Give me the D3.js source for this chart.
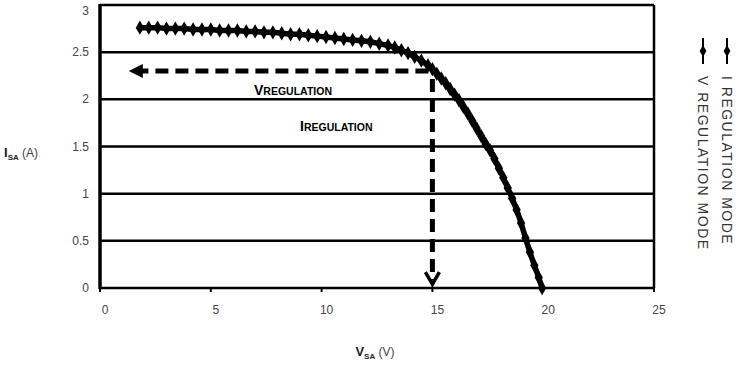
<!DOCTYPE html>
<html lang="en">
<head>
  <meta charset="UTF-8">
  <title>Solar array I-V curve</title>
  <script src="https://d3js.org/d3.v7.min.js"></script>
  <style>
    body { margin: 0; background: white; font-family: "Liberation Sans", Arial, sans-serif; }
    .grid { stroke: black; stroke-width: 2.5px; }
    .tick-label { font-size: 12px; fill: #444; }
    .legend-text { font-size: 14px; fill: #333; letter-spacing: 1.5px; }
  </style>
</head>
<body>
<svg id="svg"></svg>
<script>
// Curve data
const voltage = [1.8, 2.2, 2.6, 3.0, 3.4, 3.8, 4.2, 4.6, 5.0, 5.4, 5.8, 6.2, 6.6, 7.0, 7.4, 7.8,
  8.2, 8.6, 9.0, 9.4, 9.8, 10.2, 10.6, 11.0, 11.4, 11.8, 12.2, 12.6, 13.0, 13.3, 13.6, 13.9,
  14.2, 14.5, 14.8, 15.0, 15.2, 15.4, 15.6, 15.8, 16.0, 16.2, 16.4, 16.6, 16.8, 17.0, 17.2,
  17.4, 17.6, 17.8, 18.0, 18.2, 18.4, 18.6, 18.8, 19.0, 19.2, 19.4, 19.6, 19.8, 19.95];
const current = [2.76, 2.76, 2.76, 2.75, 2.75, 2.75, 2.74, 2.74, 2.74, 2.73, 2.73, 2.73, 2.72,
  2.72, 2.71, 2.71, 2.70, 2.69, 2.69, 2.68, 2.67, 2.66, 2.65, 2.64, 2.63, 2.62, 2.61, 2.59,
  2.57, 2.55, 2.52, 2.49, 2.45, 2.41, 2.36, 2.32, 2.27, 2.22, 2.17, 2.11, 2.05, 1.99, 1.92,
  1.85, 1.77, 1.69, 1.61, 1.53, 1.46, 1.37, 1.27, 1.17, 1.06, 0.95, 0.83, 0.69, 0.53, 0.38,
  0.24, 0.11, 0.0];

const xTicks = [0, 5, 10, 15, 20, 25];
const yTicks = [0, 0.5, 1, 1.5, 2, 2.5, 3];
const legendLabels = ["V REGULATION MODE", "I REGULATION MODE"];

// regulation point and arrow ends (V, A)
const regPoint = [15, 2.3];
const vArrowEnd = 1.3;
const iArrowEnd = 0.04;

const width = 740, height = 371;
const svg = d3.select("#svg").attr("width", width).attr("height", height);

var x = d3.scaleLinear().domain([0, 25]).range([100, 654]);
var y = d3.scaleLinear().domain([0, 3]).range([288, 5]);

// gridlines
svg.selectAll(".grid")
  .data(yTicks)
  .join("line")
  .attr("class", "grid")
  .attr("x1", x(0)).attr("x2", x(25))
  .attr("y1", d => y(d)).attr("y2", d => y(d));

// frame
svg.append("line").attr("x1", x(0)).attr("x2", x(0)).attr("y1", y(3) - 1).attr("y2", y(0) + 1)
  .attr("stroke", "black").attr("stroke-width", 3.5);
svg.append("line").attr("x1", x(25)).attr("x2", x(25)).attr("y1", y(3)).attr("y2", y(0))
  .attr("stroke", "black").attr("stroke-width", 2.5);

// small ticks on x axis
svg.selectAll(".xtick").data(xTicks).join("line")
  .attr("x1", d => x(d)).attr("x2", d => x(d))
  .attr("y1", y(0)).attr("y2", y(0) + 4)
  .attr("stroke", "black").attr("stroke-width", 2);

// tick labels
svg.selectAll(".xlab").data(xTicks).join("text")
  .attr("class", "tick-label")
  .attr("x", d => x(d) + 5).attr("y", 314)
  .attr("text-anchor", "middle")
  .text(d => d);
svg.selectAll(".ylab").data(yTicks).join("text")
  .attr("class", "tick-label")
  .attr("x", 89).attr("y", d => Math.max(y(d) + 4, 15))
  .attr("text-anchor", "end")
  .text(d => d);

// axis titles
const yt = svg.append("text").attr("x", 4).attr("y", 157).attr("font-size", 12).attr("fill", "#222");
yt.append("tspan").attr("font-weight", "bold").attr("font-size", 13).text("I");
yt.append("tspan").attr("font-weight", "bold").attr("font-size", 8).attr("dy", 3).text("SA");
yt.append("tspan").attr("dy", -3).attr("fill", "#444").text(" (A)");

const xt = svg.append("text").attr("x", 375).attr("y", 356).attr("text-anchor", "middle")
  .attr("font-size", 12).attr("fill", "#222");
xt.append("tspan").attr("font-weight", "bold").attr("font-size", 13).text("V");
xt.append("tspan").attr("font-weight", "bold").attr("font-size", 8).attr("dy", 3).text("SA");
xt.append("tspan").attr("dy", -3).attr("fill", "#444").text(" (V)");

// the I-V curve
const pts = voltage.map((v, i) => [v, current[i]]);
svg.append("path")
  .datum(pts)
  .attr("fill", "none").attr("stroke", "black").attr("stroke-width", 5.5)
  .attr("stroke-linecap", "round")
  .attr("d", d3.line().x(d => x(d[0])).y(d => y(d[1])));
svg.selectAll(".marker").data(pts).join("path")
  .attr("class", "marker")
  .attr("transform", d => `translate(${x(d[0])},${y(d[1])})`)
  .attr("d", d3.symbol(d3.symbolDiamond, 60))
  .attr("fill", "black");

// dashed regulation arrows
svg.append("line")
  .attr("x1", x(regPoint[0]) - 4).attr("x2", x(vArrowEnd) + 12)
  .attr("y1", y(regPoint[1])).attr("y2", y(regPoint[1]))
  .attr("stroke", "black").attr("stroke-width", 5).attr("stroke-dasharray", "13,7");
svg.append("path")
  .attr("d", `M${x(vArrowEnd)},${y(regPoint[1])} l14,-7 l0,14 z`)
  .attr("fill", "black");

svg.append("line")
  .attr("x1", x(regPoint[0])).attr("x2", x(regPoint[0]))
  .attr("y1", y(regPoint[1]) + 8).attr("y2", y(iArrowEnd) - 4)
  .attr("stroke", "black").attr("stroke-width", 5).attr("stroke-dasharray", "13,7");
svg.append("path")
  .attr("d", `M${x(regPoint[0]) - 7},${y(iArrowEnd) - 12} L${x(regPoint[0])},${y(iArrowEnd)} L${x(regPoint[0]) + 7},${y(iArrowEnd) - 12}`)
  .attr("fill", "none").attr("stroke", "black").attr("stroke-width", 3.5);

// annotation labels
function smallCapsLabel(px, py, first, rest) {
  const t = svg.append("text").attr("x", px).attr("y", py)
    .attr("font-weight", "bold").attr("fill", "black");
  t.append("tspan").attr("font-size", 14).text(first);
  t.append("tspan").attr("font-size", 10.5).text(rest);
}
smallCapsLabel(254, 95, "V", "REGULATION");
smallCapsLabel(300, 131, "I", "REGULATION");

// legend (rotated)
const legend = svg.selectAll(".legend").data(legendLabels).join("g")
  .attr("class", "legend")
  .attr("transform", (d, i) => `translate(${703 + i * 24},0)`);
legend.append("line")
  .attr("x1", 0).attr("x2", 0).attr("y1", 38).attr("y2", 64)
  .attr("stroke", "black").attr("stroke-width", 2);
legend.append("path")
  .attr("transform", "translate(0,51)")
  .attr("d", d3.symbol(d3.symbolDiamond, 40))
  .attr("fill", "black");
legend.append("text")
  .attr("class", "legend-text")
  .attr("transform", "translate(-5,76) rotate(90)")
  .text(d => d);
</script>
</body>
</html>
